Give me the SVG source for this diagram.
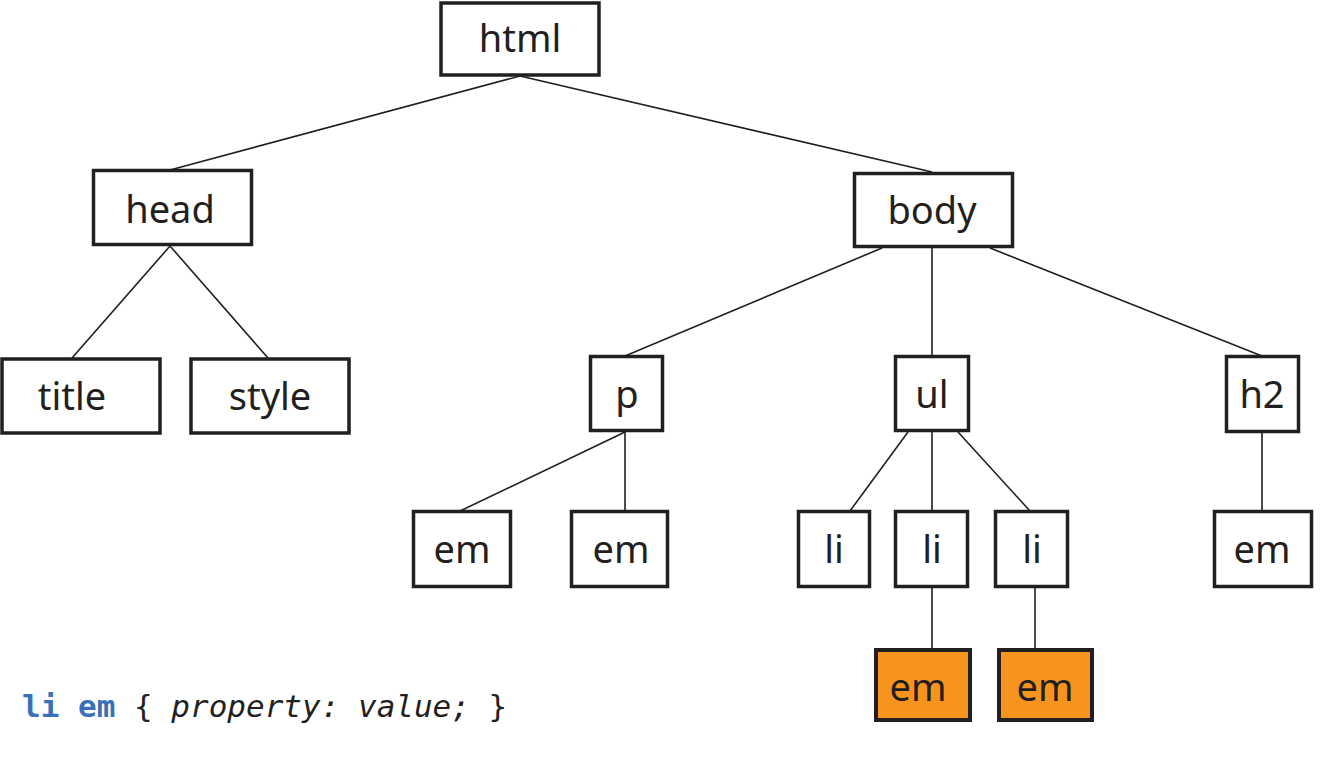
<svg xmlns="http://www.w3.org/2000/svg" width="1321" height="771" viewBox="0 0 1321 771">
<style>
.box{fill:#fff;stroke:#231f20;stroke-width:3.5}
.hl{fill:#f7941d;stroke:#231f20;stroke-width:4}
.lbl{font-family:"Source Sans Pro","Noto Sans","Open Sans",sans-serif;font-size:38px;fill:#231f20;text-anchor:middle}
.ln{stroke:#231f20;stroke-width:1.6;fill:none}
.code{font-family:"DejaVu Sans Mono","Liberation Mono",monospace;font-size:31px;fill:#231f20}
</style>
<rect width="1321" height="771" fill="#fff"/>
<g id="connectors">
<line class="ln" x1="520" y1="76" x2="170" y2="170"/>
<line class="ln" x1="520" y1="76" x2="932" y2="172"/>
<line class="ln" x1="170" y1="246" x2="72" y2="358"/>
<line class="ln" x1="170" y1="246" x2="268" y2="358"/>
<line class="ln" x1="882" y1="248" x2="625" y2="356"/>
<line class="ln" x1="932" y1="248" x2="932" y2="356"/>
<line class="ln" x1="990" y1="248" x2="1262" y2="356"/>
<line class="ln" x1="625" y1="432" x2="460" y2="511"/>
<line class="ln" x1="625" y1="432" x2="625" y2="511"/>
<line class="ln" x1="908" y1="432" x2="850" y2="511"/>
<line class="ln" x1="932" y1="432" x2="932" y2="511"/>
<line class="ln" x1="958" y1="432" x2="1030" y2="511"/>
<line class="ln" x1="1262" y1="432" x2="1262" y2="511"/>
<line class="ln" x1="932" y1="587" x2="932" y2="649"/>
<line class="ln" x1="1035" y1="587" x2="1035" y2="649"/>
</g>
<g id="html"><rect class="box" x="441" y="3" width="158" height="72"/><text class="lbl" x="520" y="52">html</text></g>
<g id="head"><rect class="box" x="93.5" y="170.5" width="158" height="74"/><text class="lbl" x="170" y="223">head</text></g>
<g id="body"><rect class="box" x="854.5" y="173.5" width="158" height="73"/><text class="lbl" x="932" y="224">body</text></g>
<g id="title"><rect class="box" x="2" y="359" width="158" height="74"/><text class="lbl" x="72" y="410">title</text></g>
<g id="style"><rect class="box" x="191" y="359" width="158" height="74"/><text class="lbl" x="270" y="410">style</text></g>
<g id="p"><rect class="box" x="590.5" y="356.5" width="72" height="74"/><text class="lbl" x="627" y="408">p</text></g>
<g id="ul"><rect class="box" x="895.5" y="356.5" width="73" height="74"/><text class="lbl" x="932" y="408">ul</text></g>
<g id="h2"><rect class="box" x="1226.5" y="356.5" width="72" height="75"/><text class="lbl" x="1262" y="408">h2</text></g>
<g id="em1"><rect class="box" x="413.5" y="511.5" width="97" height="75"/><text class="lbl" x="462" y="563">em</text></g>
<g id="em2"><rect class="box" x="571.5" y="511.5" width="96" height="75"/><text class="lbl" x="621" y="563">em</text></g>
<g id="li1"><rect class="box" x="798.5" y="511.5" width="71" height="75"/><text class="lbl" x="834" y="563">li</text></g>
<g id="li2"><rect class="box" x="895.5" y="511.5" width="72" height="75"/><text class="lbl" x="932" y="563">li</text></g>
<g id="li3"><rect class="box" x="995.5" y="511.5" width="72" height="75"/><text class="lbl" x="1032" y="563">li</text></g>
<g id="em3"><rect class="box" x="1214.5" y="511.5" width="97" height="75"/><text class="lbl" x="1262" y="563">em</text></g>
<g id="em4"><rect class="hl" x="876" y="650" width="94" height="70"/><text class="lbl" x="918" y="701">em</text></g>
<g id="em5"><rect class="hl" x="999" y="650" width="93" height="70"/><text class="lbl" x="1045" y="701">em</text></g>
<g id="code"><text class="code" x="22" y="717"><tspan font-weight="bold" fill="#3a70b8">li em</tspan> { <tspan font-style="italic">property: value;</tspan> }</text></g>
</svg>
